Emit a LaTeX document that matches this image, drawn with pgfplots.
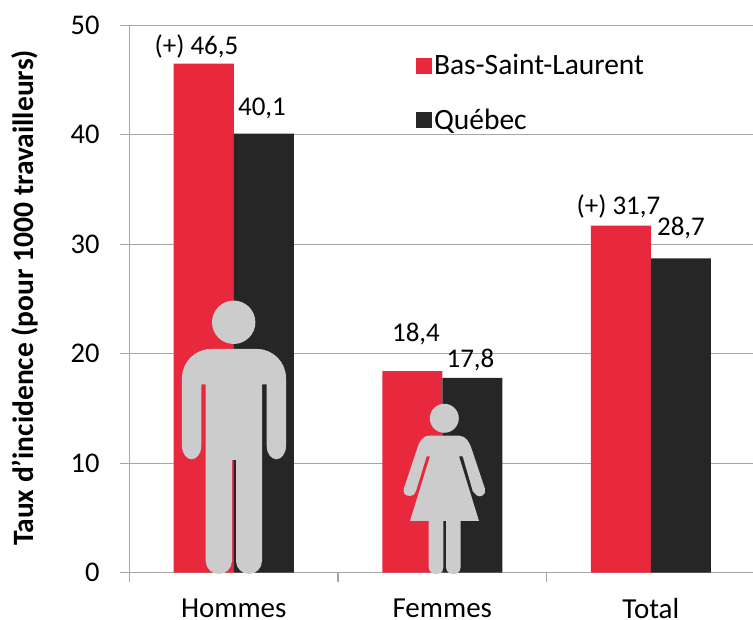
\documentclass[border=0pt]{standalone}
\usepackage{fontspec}
\setmainfont{Carlito}
\usepackage{pgfplots}
\pgfplotsset{compat=1.18}
\definecolor{rred}{HTML}{E8283C}
\definecolor{ddark}{HTML}{262626}
\definecolor{ggrid}{HTML}{A6A6A6}
\definecolor{icon}{HTML}{CCCCCC}
\begin{document}
\begin{tikzpicture}[x=1pt,y=1pt]
\path[use as bounding box] (-129.5pt,-47.3pt) rectangle (623.5pt,572.7pt);
\begin{axis}[
  at={(0pt,0pt)},anchor=south west,
  scale only axis,width=623.5pt,height=547.5pt,
  xmin=-0.5,xmax=2.490,ymin=0,ymax=50,
  axis x line=bottom,axis y line=left,
  axis line style={ggrid,line width=1.2pt,-},
  ytick={0,10,20,30,40,50},
  xtick={0,1,2},xticklabels={Hommes,Femmes,Total},
  minor xtick={-0.5,0.5,1.5},
  tick align=outside,
  major tick length=9.5pt,minor tick length=9.5pt,
  x tick style={draw=none},
  minor x tick style={draw=ggrid,line width=1.2pt},
  y tick style={draw=ggrid,line width=1.2pt},
  ymajorgrids,grid style={ggrid,line width=1.2pt},
  tick label style={font=\fontsize{28.5}{30}\selectfont,text=black},
  /pgf/number format/assume math mode=true,
  xticklabel style={inner sep=0pt,yshift=-16pt,font=\fontsize{29}{30}\selectfont},
  yticklabel style={xshift=-17pt},
  clip=false,
  legend style={at={(286.5pt,520pt)},anchor=north west,draw=none,fill=none,
    font=\fontsize{29.5}{30}\selectfont,row sep=29pt,
    legend cell align=left,inner sep=0pt,outer sep=0pt,
    /tikz/every even column/.append style={column sep=11pt}},
  legend image code/.code={\fill[#1] (0pt,-8pt) rectangle (16pt,8pt);},
]
\addplot[ybar,bar width=0.2878,bar shift=-0.1439,fill=rred,draw=none] coordinates {(0,46.5) (1,18.4) (2,31.7)};
\addplot[ybar,bar width=0.2878,bar shift=0.1439,fill=ddark,draw=none] coordinates {(0,40.1) (1,17.8) (2,28.7)};
\legend{Bas-Saint-Laurent,Québec}
\end{axis}
\begin{scope}[shift={(-129.5pt,572.7pt)},x=1pt,y=-1pt]
% man
\fill[icon] (233.7,322.3) circle[radius=21.7];
\fill[icon] (211,349) -- (257,349) arc[start angle=-90,end angle=0,radius=29]
  -- (286,446) arc[start angle=0,end angle=180,x radius=9.65,y radius=13.3] -- (266.7,384.3) -- (262,384.3)
  -- (262,561) arc[start angle=0,end angle=180,x radius=13,y radius=13] -- (236,460) -- (232,460)
  -- (232,561) arc[start angle=0,end angle=180,x radius=13.15,y radius=13] -- (205.7,384.3) -- (201.3,384.3)
  -- (201.3,446) arc[start angle=0,end angle=180,x radius=9.65,y radius=13.3] -- (182,378)
  arc[start angle=180,end angle=270,radius=29] -- cycle;
% woman
\fill[icon] (444.3,418.3) circle[radius=14.5];
\fill[icon] (429.3,435.7) -- (459.3,435.7) .. controls (466,435.7) and (470,443) .. (472,450)
  -- (485,489) .. controls (486.5,495) and (480,498) .. (477,495.5) .. controls (474.5,494) and (473,491) .. (472.7,491)
  -- (462.7,456.3) -- (459,456.3) -- (479,521) -- (460.7,521) -- (460.7,567)
  .. controls (460.7,576.5) and (446,576.5) .. (446,567) -- (446,521) -- (443.3,521) -- (443.3,567)
  .. controls (443.3,576.5) and (428.7,576.5) .. (428.7,567) -- (428.7,521) -- (410,521) -- (430,456.3) -- (426.7,456.3)
  -- (416,491) .. controls (415,494) and (413,496.5) .. (410,496) .. controls (405,496) and (402.5,493) .. (404,488)
  -- (416.7,450) .. controls (418.5,443) and (422,435.7) .. (429.3,435.7) -- cycle;
% data labels
\begin{scope}[every node/.style={font=\fontsize{27}{28}\selectfont,text=black,inner sep=0pt}]
\node at (196.5,47) {(+) 46,5};
\node at (262,108) {40,1};
\node at (416,334) {18,4};
\node at (470.5,360) {17,8};
\node at (618.5,207) {(+) 31,7};
\node at (681,228) {28,7};
\node[rotate=90,font=\fontsize{29.5}{30}\selectfont\bfseries] at (25,298) {Taux d’incidence (pour 1000 travailleurs)};
\end{scope}
\end{scope}
\end{tikzpicture}
\end{document}
